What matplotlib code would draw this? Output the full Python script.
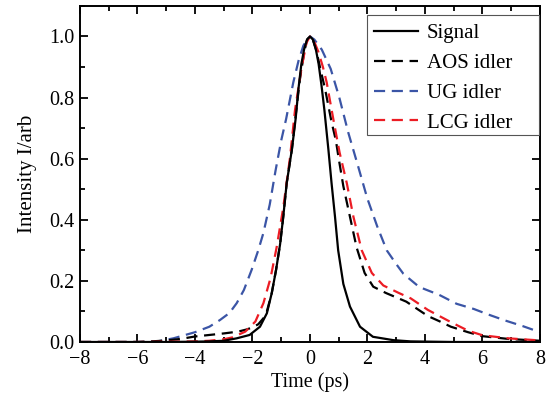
import matplotlib
matplotlib.use("Agg")
import matplotlib.pyplot as plt
from matplotlib.ticker import MultipleLocator
from matplotlib.patches import Rectangle

plt.rcParams['font.family'] = ['Liberation Serif', 'DejaVu Serif']
plt.rcParams['mathtext.fontset'] = 'stix'

# ---- data ----
sig_t = [-8, -5, -4, -3.5, -3, -2.55, -2.1, -1.74, -1.5, -1.33, -1.18, -1.04, -0.93,
         -0.81, -0.63, -0.5, -0.4, -0.3, -0.2, -0.1, 0, 0.1, 0.2, 0.3, 0.4, 0.5, 0.64,
         0.75, 0.87, 0.98, 1.16, 1.39, 1.74, 2.19, 2.9, 3.5, 5, 8]
sig_i = [0, 0, 0.001, 0.002, 0.004, 0.012, 0.023, 0.05, 0.094, 0.16, 0.236, 0.32, 0.41,
         0.52, 0.63, 0.73, 0.83, 0.91, 0.96, 0.99, 1.0, 0.99, 0.96, 0.91, 0.84, 0.76, 0.63,
         0.52, 0.41, 0.30, 0.19, 0.116, 0.05, 0.017, 0.006, 0.002, 0, 0]

aos_t = [-8, -6, -5.5, -5, -4.5, -4, -3.5, -3, -2.5, -2.2, -2.0, -1.8, -1.6, -1.5, -1.33,
         -1.18, -1.04, -0.93, -0.81, -0.63, -0.5, -0.35, -0.2, -0.1, 0, 0.1, 0.23, 0.37,
         0.52, 0.75, 0.9, 1.0, 1.16, 1.39, 1.62, 1.9, 2.2, 2.65, 3.35, 4.1, 4.5, 4.9, 5.5,
         6.0, 6.9, 8]
aos_i = [0, 0, 0.002, 0.005, 0.01, 0.018, 0.023, 0.028, 0.034, 0.041, 0.048, 0.058, 0.08,
         0.1, 0.16, 0.236, 0.32, 0.41, 0.52, 0.63, 0.74, 0.86, 0.95, 0.99, 1.0, 0.99, 0.95,
         0.89, 0.83, 0.72, 0.66, 0.6, 0.51, 0.41, 0.31, 0.226, 0.181, 0.16, 0.132, 0.085,
         0.068, 0.05, 0.032, 0.019, 0.01, 0.004]

ug_t = [-8, -6, -5.3, -4.75, -4, -3.5, -3.13, -2.8, -2.55, -2.3, -2.03, -1.8, -1.62, -1.4,
        -1.2, -1.0, -0.83, -0.58, -0.4, -0.23, -0.1, 0, 0.15, 0.41, 0.72, 1.02, 1.33, 1.68,
        1.99, 2.34, 2.67, 3.0, 3.25, 3.8, 4.5, 5.1, 5.7, 6.2, 6.8, 7.4, 8]
ug_i = [0, 0, 0.002, 0.012, 0.032, 0.05, 0.072, 0.095, 0.127, 0.17, 0.236, 0.30, 0.357,
        0.45, 0.56, 0.66, 0.73, 0.85, 0.92, 0.97, 0.99, 1.0, 0.99, 0.957, 0.894, 0.80,
        0.686, 0.573, 0.471, 0.378, 0.30, 0.255, 0.223, 0.18, 0.154, 0.125, 0.108, 0.09,
        0.07, 0.052, 0.032]

lcg_t = [-8, -6, -4, -3.5, -3, -2.7, -2.25, -1.9, -1.62, -1.37, -1.16, -0.93, -0.7, -0.52,
         -0.29, -0.12, 0, 0.12, 0.29, 0.45, 0.58, 0.81, 1.03, 1.28, 1.51, 1.8, 2.15, 2.55,
         3.1, 3.5, 4.1, 4.5, 4.9, 5.5, 6.0, 6.9, 8]
lcg_i = [0, 0, 0.002, 0.004, 0.009, 0.015, 0.034, 0.067, 0.127, 0.21, 0.31, 0.44, 0.60,
         0.76, 0.90, 0.98, 1.0, 0.99, 0.95, 0.90, 0.85, 0.73, 0.62, 0.52, 0.41, 0.30,
         0.226, 0.185, 0.16, 0.143, 0.105, 0.085, 0.065, 0.037, 0.022, 0.012, 0.005]

labels = ["Signal", "AOS idler", "UG idler", "LCG idler"]
x_ticks = [-8, -6, -4, -2, 0, 2, 4, 6, 8]
y_ticks = [0.0, 0.2, 0.4, 0.6, 0.8, 1.0]

blue = '#3b55a6'
red = '#ec1c24'

fig = plt.figure(figsize=(5.54, 3.94), dpi=100)
ax = fig.add_axes([0.1444, 0.132, 0.8303, 0.853])

lw = 1.6
h_ug, = ax.plot(ug_t, ug_i, color=blue, lw=lw, dashes=(5, 3), label=labels[2])
h_aos, = ax.plot(aos_t, aos_i, color='black', lw=lw, dashes=(5, 3), label=labels[1])
h_lcg, = ax.plot(lcg_t, lcg_i, color=red, lw=lw, dashes=(5, 3), label=labels[3])
h_sig, = ax.plot(sig_t, sig_i, color='black', lw=lw, label=labels[0])

ax.set_xlim(-8, 8)
ax.set_ylim(0, 1.10)
ax.set_xticks(x_ticks)
ax.set_yticks(y_ticks)
ax.set_xticklabels(['\u22128', '\u22126', '\u22124', '\u22122', '0', '2', '4', '6', '8'])
ax.set_yticklabels(['%.1f' % v for v in y_ticks])
ax.xaxis.set_minor_locator(MultipleLocator(1))
ax.yaxis.set_minor_locator(MultipleLocator(0.1))
ax.tick_params(which='both', direction='in', top=True, right=True, width=1.3,
               labelsize=14.5)
ax.tick_params(axis='x', which='both', pad=6)
ax.tick_params(axis='y', which='both', pad=4)
ax.tick_params(which='major', length=6)
ax.tick_params(which='minor', length=3.5)
for s in ax.spines.values():
    s.set_linewidth(1.4)

ax.set_xlabel('Time (ps)', fontsize=14.5, labelpad=2)
ax.set_ylabel('Intensity I/arb', fontsize=15, labelpad=9)

# legend frame (Origin-style box with wide right margin)
ax.add_patch(Rectangle((0.624, 0.616), 0.374, 0.357, transform=ax.transAxes,
                       facecolor='white', edgecolor='#555555', linewidth=0.8, zorder=4))
leg = ax.legend(handles=[h_sig, h_aos, h_ug, h_lcg], loc='upper left',
                bbox_to_anchor=(0.639, 0.947), fontsize=15, frameon=False,
                handlelength=2.1, handletextpad=0.43, labelspacing=0.49,
                borderpad=0.0, borderaxespad=0.0)
leg.set_zorder(5)

fig.savefig('out.png', dpi=100)
